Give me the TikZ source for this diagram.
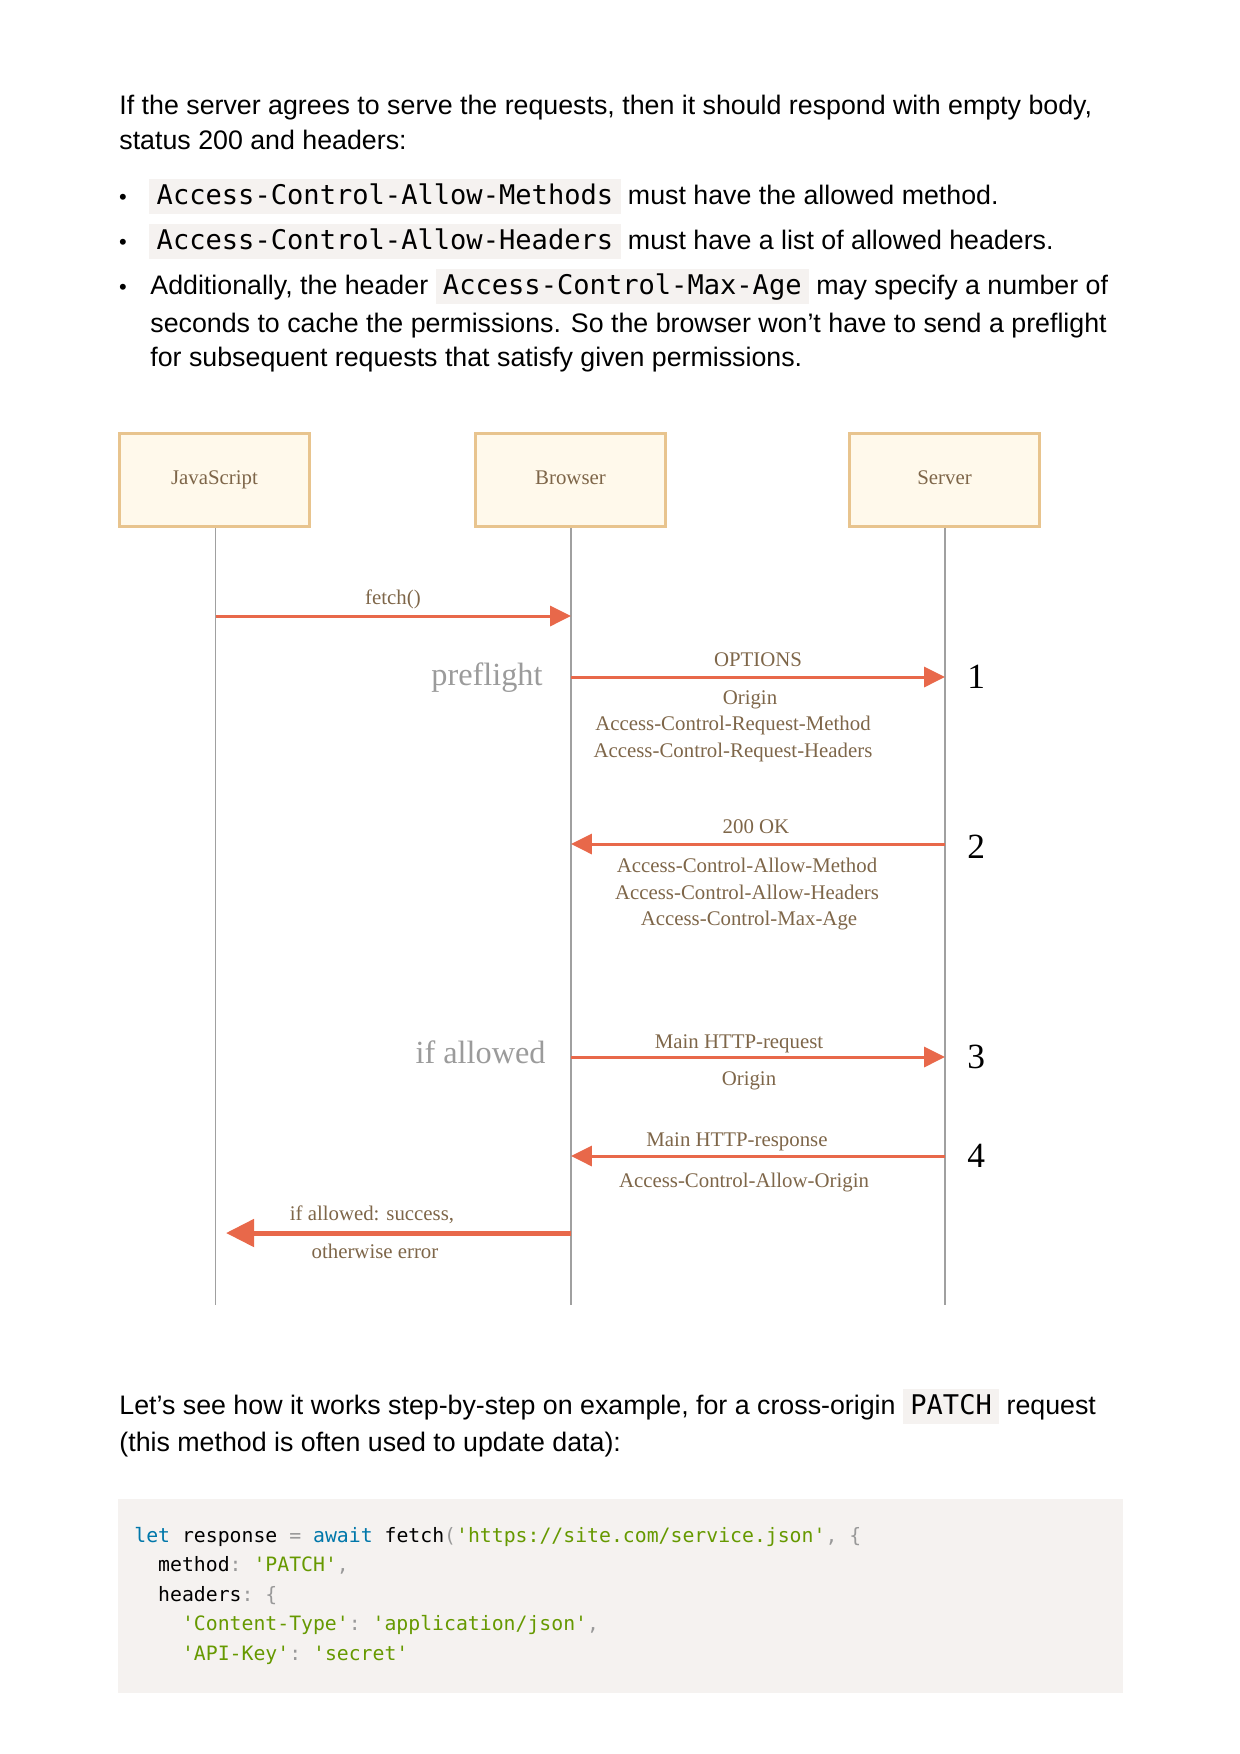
\documentclass[tikz,border=0pt]{standalone}
\usepackage{fontspec}
\setmainfont{Liberation Sans}
\setmonofont{DejaVu Sans Mono}
\newfontfamily\diagfont{Liberation Serif}
\usetikzlibrary{arrows.meta}

\definecolor{codebg}{HTML}{F5F2F0}
\definecolor{boxfill}{HTML}{FFF9EB}
\definecolor{boxline}{HTML}{E8C48E}
\definecolor{msgline}{HTML}{E8684A}
\definecolor{msgtext}{HTML}{7E6649}
\definecolor{lifegray}{HTML}{A0A0A0}
\definecolor{phasegray}{HTML}{9B9B9B}
\definecolor{kw}{HTML}{0077AA}
\definecolor{str}{HTML}{669900}
\definecolor{punct}{HTML}{999999}

% inline code with a grey box
\newcommand{\icode}[1]{{\setlength{\fboxsep}{0pt}\colorbox{codebg}{\rule[-4.8pt]{0pt}{16.8pt}\hspace{3.5pt}\ttfamily\fontsize{13}{16}\selectfont #1\hspace{3.5pt}}}}

\begin{document}
\begin{tikzpicture}[x=0.48pt, y=-0.48pt,
	>={Triangle[length=10pt,width=9.6pt]},
	para/.style={anchor=base west, inner sep=0pt, font=\fontsize{12.85}{15}\selectfont},
	bullet/.style={anchor=base, inner sep=0pt, font=\fontsize{10.5}{12}\selectfont},
	codeline/.style={anchor=base west, inner sep=0pt, font=\ttfamily\fontsize{9.5}{12}\selectfont},
	actor/.style={draw=boxline, fill=boxfill, line width=1.44pt, minimum width=91.2pt, minimum height=44.6pt, inner sep=0pt, text height=7pt, text depth=3pt, text=msgtext, font=\diagfont\fontsize{10}{12}\selectfont},
	lifeline/.style={draw=lifegray, line width=0.7pt},
	msg/.style={draw=msgline, line width=1.45pt},
	lbl/.style={anchor=base, inner sep=0pt, text=msgtext, font=\diagfont\fontsize{10}{12}\selectfont},
	phaselbl/.style={anchor=base east, inner sep=0pt, text=phasegray, font=\diagfont\fontsize{15.5}{18}\selectfont},
	stepnum/.style={anchor=base west, inner sep=0pt, font=\diagfont\fontsize{17}{20}\selectfont}]
	\useasboundingbox (0,0) rectangle (1240,1754);

	% Text above
	\node [para] (p1) at (119,114) {If the server agrees to serve the requests, then it should respond with empty body,};
	\node [para] (p2) at (119,149) {status 200 and headers:};
	\node [bullet] (d1) at (123,204) {•};
	\node [para] (b1) at (149,204) {\icode{Access-Control-Allow-Methods} must have the allowed method.};
	\node [bullet] (d2) at (123,249) {•};
	\node [para] (b2) at (149,249) {\icode{Access-Control-Allow-Headers} must have a list of allowed headers.};
	\node [bullet] (d3) at (123,294) {•};
	\node [para] (b3) at (150,294) {Additionally, the header \icode{Access-Control-Max-Age} may specify a number of};
	\node [para] (b3b) at (150,332) {seconds to cache the permissions. So the browser won’t have to send a preflight};
	\node [para] (b3c) at (150,366) {for subsequent requests that satisfy given permissions.};

	% Nodes {js, browser, server}
	\node [actor] (js)      at (214.5,480) {JavaScript};
	\node [actor] (browser) at (570.5,480) {Browser};
	\node [actor] (server)  at (944.5,480) {Server};

	% Lifelines
	\coordinate (jsEnd)      at (215.5,1305);
	\coordinate (browserEnd) at (571,1305);
	\coordinate (serverEnd)  at (945,1305);
	\path [lifeline] (js.south -| jsEnd) -- (jsEnd);
	\path [lifeline] (browser.south -| browserEnd) -- (browserEnd);
	\path [lifeline] (server.south -| serverEnd) -- (serverEnd);

	% Points on the lifelines
	\coordinate (jsFetch)   at (215.5,616);
	\coordinate (brFetch)   at (571,616);
	\coordinate (brOpt)     at (571,677);
	\coordinate (svOpt)     at (945,677);
	\coordinate (svOk)      at (945,844);
	\coordinate (brOk)      at (571,844);
	\coordinate (brMain)    at (571,1057);
	\coordinate (svMain)    at (945,1057);
	\coordinate (svResp)    at (945,1156);
	\coordinate (brResp)    at (571,1156);
	\coordinate (brResult)  at (571,1233);
	\coordinate (jsResult)  at (226,1233);

	% Paths
	\path [->] (jsFetch) edge [msg] (brFetch);
	\path [->] (brOpt)   edge [msg] (svOpt);
	\path [->] (svOk)    edge [msg] (brOk);
	\path [->] (brMain)  edge [msg] (svMain);
	\path [->] (svResp)  edge [msg] (brResp);
	\path [-{Triangle[length=13.5pt,width=13pt]}] (brResult) edge [msg, line width=2.4pt] (jsResult);

	% Labels
	\node [lbl] (lFetch) at (393,604) {fetch()};
	\node [phaselbl] (preflight) at (543,685) {preflight};
	\node [lbl] (lOpt)   at (758,666) {OPTIONS};
	\node [lbl] (lOpt1)  at (750,704) {Origin};
	\node [lbl] (lOpt2)  at (733,730.5) {Access-Control-Request-Method};
	\node [lbl] (lOpt3)  at (733,757) {Access-Control-Request-Headers};
	\node [lbl] (lOk)    at (756,833) {200 OK};
	\node [lbl] (lOk1)   at (747,872) {Access-Control-Allow-Method};
	\node [lbl] (lOk2)   at (747,899) {Access-Control-Allow-Headers};
	\node [lbl] (lOk3)   at (749,925) {Access-Control-Max-Age};
	\node [phaselbl] (allowed) at (546,1063) {if allowed};
	\node [lbl] (lMain)  at (739,1048) {Main HTTP-request};
	\node [lbl] (lMain1) at (749,1085) {Origin};
	\node [lbl] (lResp)  at (737,1146) {Main HTTP-response};
	\node [lbl] (lResp1) at (744,1187) {Access-Control-Allow-Origin};
	\node [lbl] (lRes)   at (372,1220) {if allowed: success,};
	\node [lbl] (lRes1)  at (375,1258) {otherwise error};

	% Step numbers
	\node [stepnum] (n1) at (967,688)  {1};
	\node [stepnum] (n2) at (967,858)  {2};
	\node [stepnum] (n3) at (967,1068) {3};
	\node [stepnum] (n4) at (967,1167) {4};

	% Text below
	\node [para] (p3) at (119,1414) {Let’s see how it works step-by-step on example, for a cross-origin \icode{PATCH} request};
	\node [para] (p4) at (119,1451) {(this method is often used to update data):};

	% Code block
	\fill [codebg] (118,1499) rectangle (1123,1693);
	\node [codeline] (c1) at (134,1542) {{\color{kw}let} response {\color{punct}=} {\color{kw}await} fetch{\color{punct}(}{\color{str}'https://site.com/service.json'}{\color{punct},} {\color{punct}\{}};
	\node [codeline] (c2) at (157.8,1571.6) {method{\color{punct}:} {\color{str}'PATCH'}{\color{punct},}};
	\node [codeline] (c3) at (157.8,1601.2) {headers{\color{punct}:} {\color{punct}\{}};
	\node [codeline] (c4) at (181.6,1630.8) {{\color{str}'Content-Type'}{\color{punct}:} {\color{str}'application/json'}{\color{punct},}};
	\node [codeline] (c5) at (181.6,1660.4) {{\color{str}'API-Key'}{\color{punct}:} {\color{str}'secret'}};
\end{tikzpicture}
\end{document}
